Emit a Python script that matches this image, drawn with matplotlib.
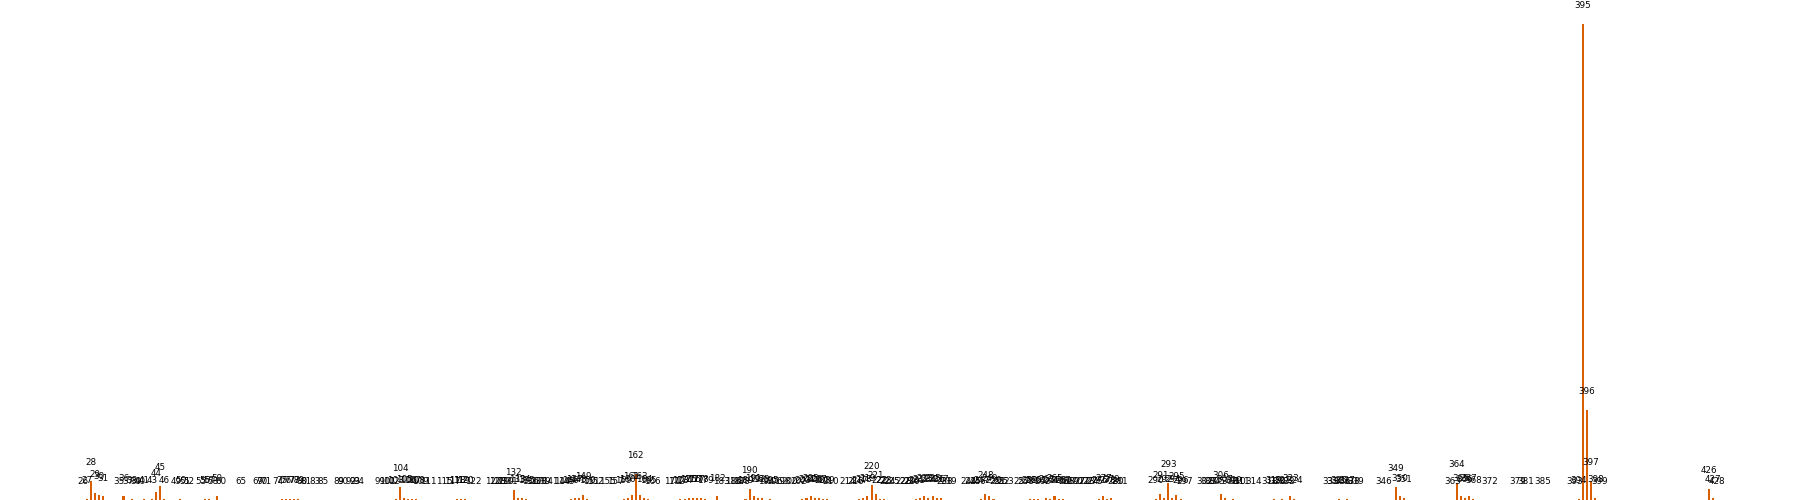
import numpy as np
import matplotlib.pyplot as plt

# residue positions and their counts
positions = [26, 27, 28, 29, 30, 31,
             35, 36, 37, 38, 39, 40, 41, 43, 44, 45, 46,
             49, 50, 51, 52,
             55, 56, 57, 58, 59, 60,
             65, 69, 70, 71,
             74, 75, 76, 77, 78, 79, 80, 81, 83, 85,
             89, 90, 92, 93, 94,
             99, 101, 102, 103, 104, 105, 106, 107, 108, 109, 111,
             115, 117, 118, 119, 120, 122,
             127, 128, 129, 130, 131, 132, 133, 134, 135, 136, 137, 138, 139, 141,
             144, 145, 146, 147, 148, 149, 150, 151, 152,
             155, 157, 159, 160, 161, 162, 163, 164, 165, 166,
             171, 172, 173, 174, 175, 176, 177, 178, 179, 182, 183,
             186, 187, 188, 189, 190, 191, 192, 193, 194, 195, 196, 198,
             200, 202, 203, 204, 205, 206, 207, 208, 209, 210,
             214, 216, 217, 218, 219, 220, 221, 222, 223, 224, 225,
             228, 229, 230, 231, 232, 233, 234, 235, 236, 237, 238, 239,
             244, 245, 246, 247, 248, 249, 250, 251, 252, 253,
             257, 258, 259, 260, 261, 262, 263, 264, 265, 266, 267, 268, 269, 270,
             272, 273, 274, 275, 276, 277, 278, 279, 280, 281,
             290, 291, 292, 293, 294, 295, 296, 297,
             302, 303, 304, 305, 306, 307, 308, 309, 310, 311, 314,
             318, 319, 320, 321, 322, 323, 324,
             333, 334, 335, 336, 337, 338, 339,
             346, 349, 350, 351,
             363, 364, 365, 366, 367, 368,
             372, 379, 381, 385,
             393, 394, 395, 396, 397, 398, 399,
             426, 427, 428]

counts = [0, 1, 16, 6, 4, 3,
          0, 3, 0, 1, 0, 0, 1, 1, 7, 12, 1,
          0, 1, 0, 0,
          0, 1, 1, 0, 3, 0,
          0, 0, 0, 0,
          0, 1, 1, 1, 1, 1, 0, 0, 0, 0,
          0, 0, 0, 0, 0,
          0, 0, 0, 1, 11, 2, 1, 1, 1, 0, 0,
          0, 0, 1, 1, 1, 0,
          0, 0, 0, 0, 0, 8, 2, 2, 1, 0, 0, 0, 0, 0,
          0, 0, 1, 2, 2, 4, 1, 0, 0,
          0, 0, 1, 2, 4, 22, 4, 2, 1, 0,
          0, 0, 1, 1, 2, 2, 2, 2, 1, 3, 0,
          0, 0, 0, 1, 9, 3, 2, 2, 0, 1, 0, 0,
          0, 0, 1, 2, 3, 2, 2, 1, 1, 0,
          0, 0, 1, 2, 3, 13, 5, 1, 1, 0, 0,
          0, 0, 0, 1, 2, 3, 2, 3, 2, 2, 0, 0,
          0, 0, 0, 1, 5, 3, 1, 0, 0, 0,
          0, 0, 1, 1, 1, 0, 2, 1, 3, 1, 1, 0, 0, 0,
          0, 0, 0, 0, 1, 3, 1, 2, 0, 0,
          1, 5, 2, 14, 2, 4, 1, 0,
          0, 0, 0, 0, 5, 2, 0, 1, 0, 0, 0,
          0, 1, 0, 1, 0, 3, 1,
          0, 0, 1, 0, 1, 0, 0,
          0, 11, 3, 2,
          0, 14, 3, 2, 3, 1,
          0, 0, 0, 0,
          0, 1, 400, 76, 16, 2, 0,
          9, 2, 0]

fig, ax = plt.subplots(figsize=(18, 5), dpi=100)
ax.set_position([0, 0, 1, 1])

ax.bar(positions, counts, width=0.5, color='#d95f02')

for x, c in zip(positions, counts):
    ax.annotate(str(x), (x, c), xytext=(0, 10), textcoords='offset points',
                ha='center', va='bottom', fontsize=6.3, color='black')

ax.axis('off')
fig.savefig('out.png', dpi=100)
